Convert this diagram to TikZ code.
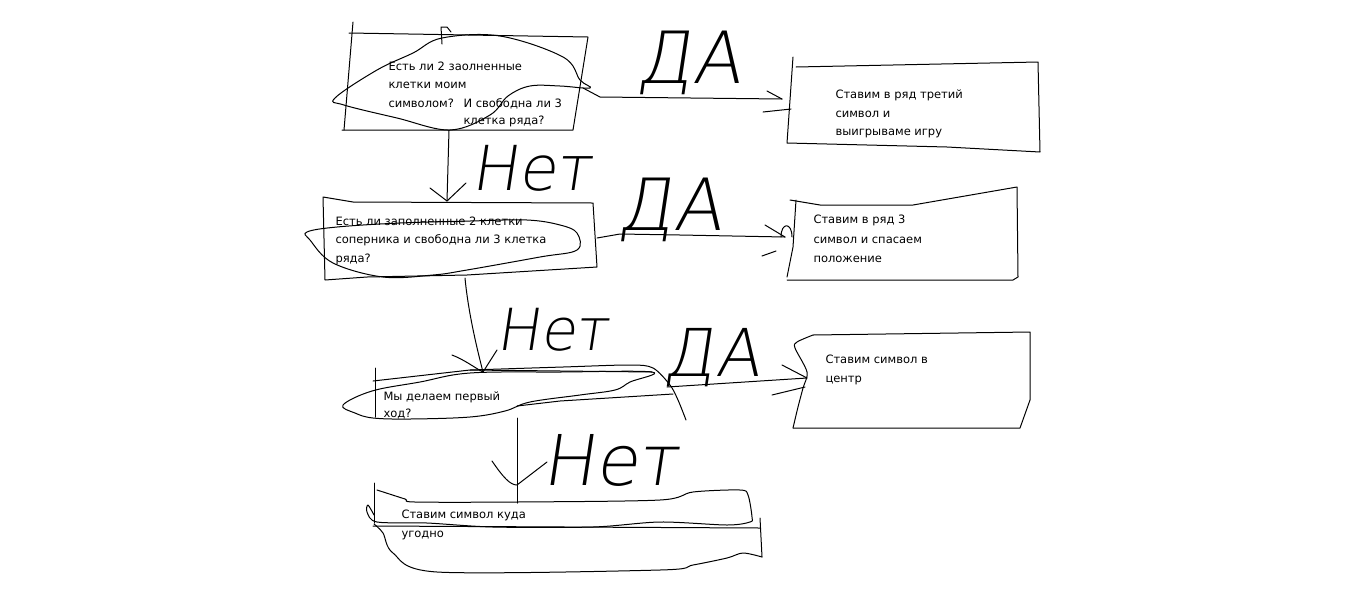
\documentclass[tikz,border=0pt]{standalone}
\usepackage{fontspec}
\newfontfamily\txtfont{DejaVu Sans}
\newfontfamily\handfont[FakeSlant=0.15]{DejaVu Sans ExtraLight}
\begin{document}
\begin{tikzpicture}[x=1pt,y=-1pt,line width=1pt,line cap=round,line join=round,
  txt/.style={font=\txtfont\fontsize{11.5}{14}\selectfont,anchor=base west,inner sep=0pt},
  hand/.style={font=\handfont\fontsize{#1}{#1}\selectfont,inner sep=0pt},
  hand/.default=72]
\useasboundingbox[fill=white] (0,0) rectangle (1360,614);

% ---------- Box 1 ----------
\draw (353,22) -- (344,130);
\draw (349,33) -- (588,37) -- (573,130) -- (342,130);
\draw (442,44) -- (441,27) -- (447,27) -- (451,32);
\draw plot[smooth cycle,tension=0.6] coordinates {(335,98) (377,70) (413,53) (442,38) (500,36) (563,57) (580,80) (590,88) (560,86) (530,86) (508,96) (490,115) (450,130) (397,118) (344,105)};
\node[txt] (t1a) at (388,70) {Есть ли 2 заолненные};
\node[txt] (t1b) at (388,88) {клетки моим};
\node[txt] (t1c) at (388,107) {символом?};
\node[txt] (t1d) at (463,107) {И свободна ли 3};
\node[txt] (t1e) at (463,124) {клетка ряда?};

% ---------- Box 2 ----------
\draw (793,57) -- (787,143) -- (947,147) -- (1040,152) -- (1038,62) -- (796,67);
\node[txt] (t2a) at (835,98) {Ставим в ряд третий};
\node[txt] (t2b) at (835,117) {символ и};
\node[txt] (t2c) at (835,135) {выигрываме игру};

% arrow box1 -> box2
\coordinate (b1out) at (583,88);
\coordinate (b2in) at (782,99);
\draw (b1out) -- (600,97) -- (b2in);
\draw (767,91) -- (b2in);
\draw (763,112) -- (791,109);
\node[hand] (da1) at (689,63) {ДА};

% ---------- Box 3 ----------
\draw (323,197) -- (325,280) -- (367,277) -- (467,275) -- (597,267) -- (593,203) -- (353,202) -- cycle;
\draw plot[smooth cycle,tension=0.6] coordinates {(307,232) (337,227) (400,223) (470,221) (527,220) (560,225) (577,233) (577,250) (540,257) (467,270) (433,275) (383,277) (333,263) (310,240)};
\node[txt] (t3a) at (335,225) {Есть ли заполненные 2 клетки};
\node[txt] (t3b) at (335,243) {соперника и свободна ли 3 клетка};
\node[txt] (t3c) at (335,262) {ряда?};

% arrow box1 -> box3
\coordinate (b1bot) at (449,130);
\coordinate (b3top) at (447,201);
\draw (b1bot) -- (b3top);
\draw (430,188) -- (b3top) -- (466,183);
\node[hand=62] (net1) at (531,168) {Нет};

% ---------- Box 4 ----------
\draw (790,200) -- (820,205) -- (913,205) -- (1017,187) -- (1018,277) -- (1013,280) -- (787,280);
\draw (796,200) -- (793,247) -- (787,277);
\node[txt] (t4a) at (813,223) {Ставим в ряд 3};
\node[txt] (t4b) at (813,243) {символ и спасаем};
\node[txt] (t4c) at (813,262) {положение};

% arrow box3 -> box4
\coordinate (b3out) at (597,238);
\coordinate (b4in) at (785,237);
\draw (b3out) -- (620,234) -- (680,235) -- (b4in);
\draw (765,225) -- (b4in);
\draw (762,256) -- (776,251);
\draw (781,237) .. controls (781,222) and (792,222) .. (792,237);
\node[hand] (da2) at (670,210) {ДА};

% ---------- Box 5 ----------
\draw (375,368) -- (375,417);
\draw (373,381) -- (470,370) -- (652,372);
\draw plot[smooth] coordinates {(470,370) (563,367) (630,365) (653,368) (670,385) (678,400) (686,420)};
\draw plot[smooth cycle,tension=0.6] coordinates {(343,405) (372,391) (420,382) (470,373) (560,372) (652,372) (630,382) (615,390) (580,395) (530,402) (505,411) (470,417) (410,419) (373,418) (355,413)};
\draw (517,406) -- (560,401) -- (673,394);
\node[txt] (t5a) at (383,400) {Мы делаем первый};
\node[txt] (t5b) at (383,417) {ход?};

% arrow box3 -> box5
\coordinate (b3bot) at (465,278);
\coordinate (b5top) at (483,372);
\draw (b3bot) .. controls (468,310) and (476,345) .. (b5top);
\draw (452,355) .. controls (465,360) and (475,368) .. (b5top) -- (497,350);
\node[hand=58] (net2) at (552,330) {Нет};

% ---------- Box 6 ----------
\draw (813,335) -- (1030,332) -- (1030,400) -- (1020,428) -- (793,428);
\draw plot[smooth] coordinates {(813,335) (797,342) (795,348) (807,372) (803,388) (798,407) (793,428)};
\node[txt] (t6a) at (825,363) {Ставим символ в};
\node[txt] (t6b) at (825,382) {центр};

% arrow box5 -> box6
\coordinate (b5out) at (667,387);
\coordinate (b6in) at (807,378);
\draw (b5out) -- (b6in);
\draw (782,365) -- (b6in);
\draw (772,395) -- (805,387);
\node[hand=66] (da3) at (712,358) {ДА};

% ---------- Box 7 ----------
\draw (374,483) -- (374,523);
\draw plot[smooth,tension=0.5] coordinates {(377,490) (405,499) (415,502) (517,502) (660,500) (693,492) (740,490) (748,495) (752,517) (750,522) (727,525) (660,522) (593,527) (493,527) (427,523) (377,522) (367,512) (368,505) (374,515)};
\draw (373,526) -- (760,528);
\draw (760,518) -- (762,557);
\draw plot[smooth,tension=0.5] coordinates {(762,557) (743,553) (727,558) (693,565) (660,570) (437,572) (393,553) (383,533) (374,524)};
\node[txt] (t7a) at (401,518) {Ставим символ куда};
\node[txt] (t7b) at (401,537) {угодно};

% arrow box5 -> box7
\coordinate (b5bot) at (517,418);
\coordinate (b7top) at (517,503);
\draw (b5bot) -- (b7top);
\draw (492,461) .. controls (503,477) and (510,485) .. (517,485) -- (547,462);
\node[hand=70] (net3) at (610,460) {Нет};
\end{tikzpicture}
\end{document}
